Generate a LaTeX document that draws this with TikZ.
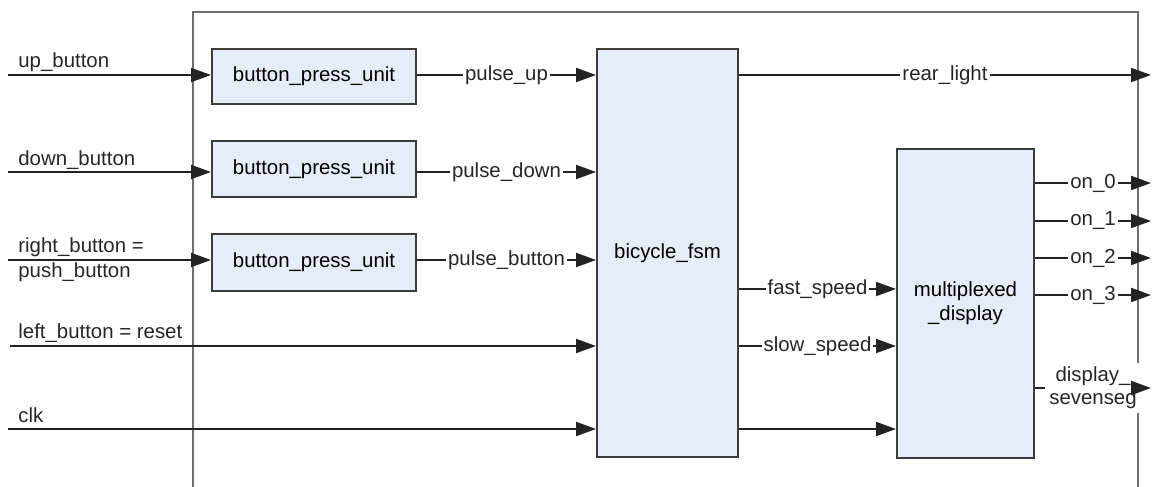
\documentclass[tikz,border=0pt]{standalone}
\usepackage{fontspec}
\setmainfont{Liberation Sans}
\usetikzlibrary{arrows.meta}
\definecolor{boxfill}{RGB}{231,237,248}
\definecolor{boxline}{RGB}{60,60,60}
\definecolor{wire}{RGB}{35,35,35}
\definecolor{framec}{RGB}{110,110,110}
\begin{document}
\begin{tikzpicture}[x=0.5pt,y=-0.5pt,
  font=\fontsize{10.2pt}{12pt}\selectfont,
  blk/.style={draw=boxline, line width=1pt, fill=boxfill, inner sep=0pt, align=center},
  wireline/.style={draw=wire, line width=1pt},
  sig/.style={wireline, -{Triangle[length=10pt,width=7pt]}},
  lbl/.style={fill=white, inner sep=1pt, text=black!85},
  inlbl/.style={anchor=base west, inner sep=0pt, text=black!85, align=left}]
\useasboundingbox (0,0) rectangle (1152,487);
% frame
\draw[framec, line width=1.4pt] (193,487) -- (193,12) -- (1138,12) -- (1138,487);
% blocks
\node[blk, minimum width=102pt, minimum height=27.5pt] (b1) at (314,76.5) {button\_press\_unit};
\node[blk, minimum width=102pt, minimum height=28pt] (b2) at (314,169) {button\_press\_unit};
\node[blk, minimum width=102pt, minimum height=28.5pt] (b3) at (314,262.5) {button\_press\_unit};
\node[blk, minimum width=70.5pt, minimum height=204pt] (fsm) at (667.5,253) {bicycle\_fsm};
\node[blk, minimum width=68.5pt, minimum height=154.5pt] (mux) at (965.5,303.5) {multiplexed\\\_display};
% input coordinates
\coordinate (iup) at (8,75);
\coordinate (idown) at (8,172);
\coordinate (iright) at (8,260);
\coordinate (ileft) at (10,346);
\coordinate (iclk) at (8,429);
% input labels
\node[inlbl] (lup) at (18,68) {up\_button};
\node[inlbl] (ldown) at (18,165) {down\_button};
\node[inlbl] (lright) at (18,252) {right\_button =};
\node[inlbl] (lpush) at (18,277) {push\_button};
\node[inlbl] (lleft) at (18,338) {left\_button = reset};
\node[inlbl] (lclk) at (18,422) {clk};
% input wires
\draw[sig] (iup) -- (b1.west |- iup);
\draw[sig] (idown) -- (b2.west |- idown);
\draw[sig] (iright) -- (b3.west |- iright);
\draw[sig] (ileft) -- (fsm.west |- ileft);
\draw[sig] (iclk) -- (fsm.west |- iclk);
\draw[sig] (fsm.east |- iclk) -- (mux.west |- iclk);
% pulses
\draw[sig] (b1.east |- iup) -- node[lbl] {pulse\_up} (fsm.west |- iup);
\draw[sig] (b2.east |- idown) -- node[lbl] {pulse\_down} (fsm.west |- idown);
\draw[sig] (b3.east |- iright) -- node[lbl] {pulse\_button} (fsm.west |- iright);
% outputs
\coordinate (orear) at (1151,75);
\draw[sig] (fsm.east |- orear) -- node[lbl] {rear\_light} (orear);
\coordinate (ifast) at (738,289);
\coordinate (islow) at (738,346);
\draw[sig] (fsm.east |- ifast) -- node[lbl] {fast\_speed} (mux.west |- ifast);
\draw[sig] (fsm.east |- islow) -- node[lbl] {slow\_speed} (mux.west |- islow);
\coordinate (o0) at (1151,183);
\coordinate (o1) at (1151,221);
\coordinate (o2) at (1151,258);
\coordinate (o3) at (1151,295);
\coordinate (o7) at (1151,388);
\draw[sig] (mux.east |- o0) -- node[lbl] {on\_0} (o0);
\draw[sig] (mux.east |- o1) -- node[lbl] {on\_1} (o1);
\draw[sig] (mux.east |- o2) -- node[lbl] {on\_2} (o2);
\draw[sig] (mux.east |- o3) -- node[lbl] {on\_3} (o3);
\node[lbl, align=center, inner sep=2pt, font=\fontsize{10.2pt}{11.5pt}\selectfont] (dseg) at (1093,388) {display\_\\sevenseg};
\draw[wireline] (mux.east |- o7) -- (dseg.west |- o7);
\draw[sig] (dseg.east |- o7) -- (o7);
\end{tikzpicture}
\end{document}
